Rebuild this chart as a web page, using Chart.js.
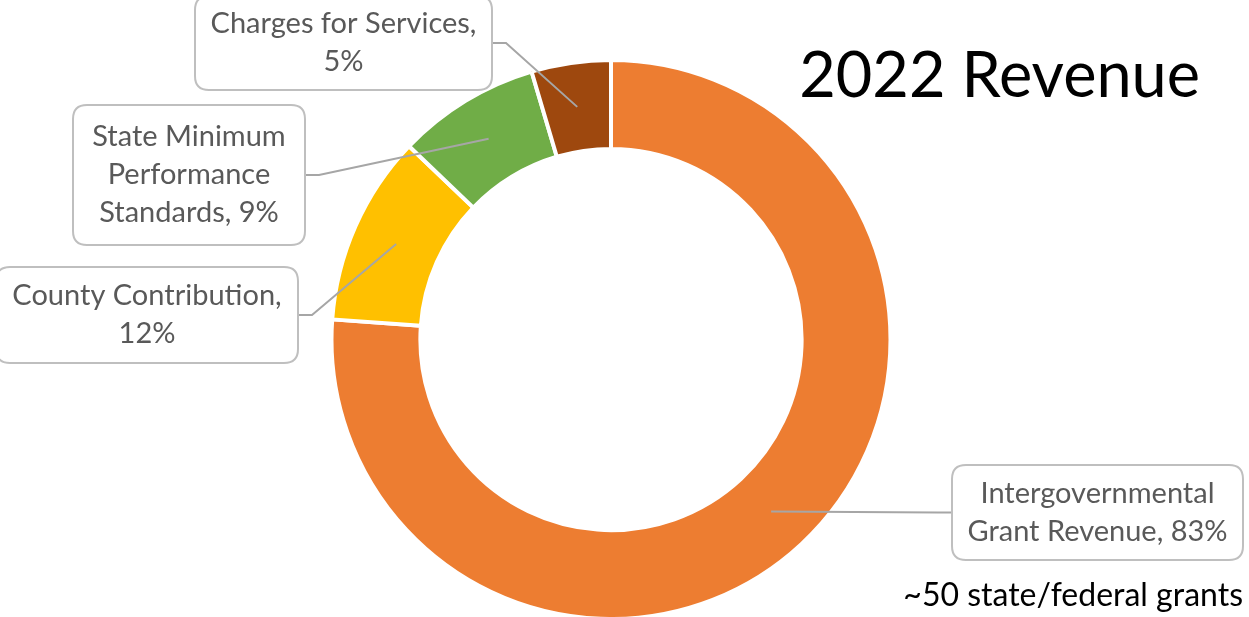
<!DOCTYPE html>
<html>
<head>
<meta charset="utf-8">
<script src="https://cdn.jsdelivr.net/npm/chart.js@4.4.0/dist/chart.umd.min.js"></script>
<style>
  html, body { margin: 0; padding: 0; background: #fff; overflow: hidden; }
  #wrap { position: relative; width: 1249px; height: 617px; }
  canvas { display: block; }
</style>
</head>
<body>
<div id="wrap"><canvas id="revenueChart" width="1249" height="617"></canvas></div>
<script>
// data
const categories = ["Intergovernmental Grant Revenue", "County Contribution", "State Minimum Performance Standards", "Charges for Services"];
const shares = [83, 12, 9, 5];
const sliceColors = ["#ED7D31", "#FFC000", "#70AD47", "#9E480E"];
// where each callout label wraps (word index ending each line)
const wrapAfter = [[1, 4], [2, 3], [2, 3, 5], [3, 4]];

const titleText = "2022 Revenue";
const noteText = "~50 state/federal grants";

// callout boxes: x, y, w, h and which side the leader leaves from
const boxes = [
  {x: 952, y: 465, w: 291, h: 95, side: "left"},
  {x: -4, y: 267, w: 302, h: 96, side: "right"},
  {x: 73, y: 105, w: 232, h: 140, side: "right"},
  {x: 195, y: -4, w: 297, h: 94, side: "right"}
];

function labelLines(i) {
  const words = (categories[i] + ", " + shares[i] + "%").split(" ");
  let out = [], start = 0;
  wrapAfter[i].forEach(end => { out.push(words.slice(start, end).join(" ")); start = end; });
  return out;
}

function roundRect(ctx, x, y, w, h, r) {
  ctx.beginPath();
  ctx.moveTo(x + r, y);
  ctx.lineTo(x + w - r, y);
  ctx.quadraticCurveTo(x + w, y, x + w, y + r);
  ctx.lineTo(x + w, y + h - r);
  ctx.quadraticCurveTo(x + w, y + h, x + w - r, y + h);
  ctx.lineTo(x + r, y + h);
  ctx.quadraticCurveTo(x, y + h, x, y + h - r);
  ctx.lineTo(x, y + r);
  ctx.quadraticCurveTo(x, y, x + r, y);
  ctx.closePath();
}

const callouts = {
  id: "callouts",
  afterDatasetsDraw(chart) {
    const ctx = chart.ctx;
    const arcs = chart.getDatasetMeta(0).data;
    ctx.save();
    arcs.forEach((arc, i) => {
      const b = boxes[i];
      const p = arc.tooltipPosition();
      const y0 = b.y + b.h / 2;
      const x0 = b.side === "left" ? b.x : b.x + b.w;
      const stub = b.side === "left" ? -14 : 14;
      ctx.strokeStyle = "#A6A6A6";
      ctx.lineWidth = 2;
      ctx.beginPath();
      ctx.moveTo(x0, y0);
      ctx.lineTo(x0 + stub, y0);
      ctx.lineTo(p.x, p.y);
      ctx.stroke();

      roundRect(ctx, b.x, b.y, b.w, b.h, 14);
      ctx.fillStyle = "#fff";
      ctx.fill();
      ctx.strokeStyle = "#BFBFBF";
      ctx.lineWidth = 2;
      ctx.stroke();

      const lines = labelLines(i);
      const lh = 38;
      ctx.fillStyle = "#595959";
      ctx.font = "29px Lato";
      ctx.textAlign = "center";
      ctx.textBaseline = "middle";
      const cy = b.y + b.h / 2 - (lines.length - 1) * lh / 2;
      lines.forEach((t, k) => ctx.fillText(t, b.x + b.w / 2, cy + k * lh));
    });

    ctx.fillStyle = "#000";
    ctx.textAlign = "right";
    ctx.textBaseline = "alphabetic";
    ctx.font = "63px Lato";
    ctx.fillText(titleText, 1200, 97);
    ctx.font = "32px Lato";
    ctx.fillText(noteText, 1243, 606);
    ctx.restore();
  }
};

new Chart(document.getElementById("revenueChart"), {
  type: "doughnut",
  data: {
    labels: categories,
    datasets: [{
      data: shares,
      backgroundColor: sliceColors,
      borderColor: "#fff",
      borderWidth: 4
    }]
  },
  options: {
    responsive: false,
    animation: false,
    radius: 279.5,
    cutout: "68.2%",
    layout: {padding: {left: 333, right: 360, top: 62, bottom: 0}},
    plugins: {legend: {display: false}, tooltip: {enabled: false}, title: {display: false}}
  },
  plugins: [callouts]
});
</script>
</body>
</html>
